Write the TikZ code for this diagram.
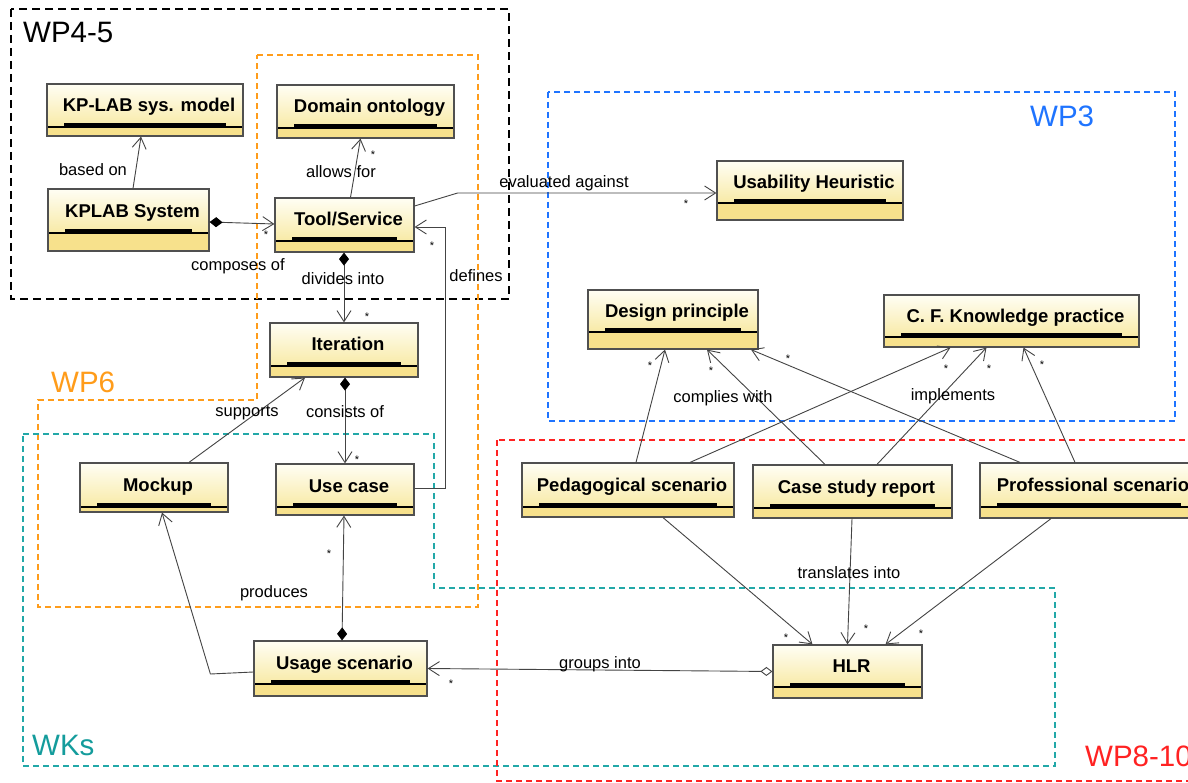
\documentclass[tikz,border=0pt]{standalone}
\usepackage{fontspec}
\setmainfont{Liberation Sans}
\usetikzlibrary{arrows.meta,fit}
\definecolor{boxtop}{HTML}{FFFEF4}
\definecolor{boxmid}{HTML}{F8EAA6}
\definecolor{boxbot}{HTML}{F7E18C}
\definecolor{boxborder}{HTML}{505050}
\definecolor{connc}{HTML}{444444}
\definecolor{wporange}{HTML}{FF9C1A}
\definecolor{wkteal}{HTML}{22A8A8}
\definecolor{wkteallbl}{HTML}{149C9C}
\definecolor{wpblue}{HTML}{1F74FF}
\definecolor{wpred}{HTML}{FF2222}
\tikzset{
  conn/.style={draw=connc, line width=0.9pt},
  nav/.style={conn, -{Straight Barb[length=11pt,width=14pt]}},
  comp/.style={conn, {Diamond[length=13pt,width=10pt,black]}-{Straight Barb[length=11pt,width=14pt]}},
  aggr/.style={conn, {Diamond[open,length=12pt,width=9pt]}-{Straight Barb[length=11pt,width=14pt]}},
  lbl/.style={font=\fontsize{16.5}{18}\selectfont, anchor=base, inner sep=0pt},
  mult/.style={font=\fontsize{11}{11}\selectfont, inner sep=0pt},
  title/.style={font=\fontsize{18.5}{20}\selectfont\bfseries, anchor=base, inner sep=0pt},
  grplbl/.style={font=\fontsize{29.5}{32}\selectfont, anchor=base west, inner sep=0pt},
  grpline/.style={line width=1.5pt, dash pattern=on 6pt off 4pt},
}
\newcommand{\umlbox}[7]{%
  \shade[top color=boxtop, bottom color=boxmid] (#2,#3) rectangle (#4,#6);
  \fill[boxbot] (#2,#6) rectangle (#4,#5);
  \draw[line width=3.2pt] ({#2+17},{#6-2.6}) -- ({#4-17},{#6-2.6});
  \draw[line width=1.4pt] (#2,#6) -- (#4,#6);
  \node[fit={(#2,#3) (#4,#5)}, inner sep=0pt, draw=boxborder, line width=1.2pt] (#1) {};
  \node[title] (#1-t) at ({(#2+#4)/2+4},{(#3+#6)/2+6.5}) {#7};
}
\begin{document}
\begin{tikzpicture}[x=1pt,y=-1pt]
\useasboundingbox (0,0) rectangle (1188,783);
\clip (0,0) rectangle (1188,783);
\fill[white] (0,0) rectangle (1188,783);

% groups
\draw[line width=2.6pt, dash pattern=on 8pt off 5pt] (11,9) rectangle (509,299);
\draw[grpline, wporange] (257,55) -- (478,55) -- (478,607) -- (38,607) -- (38,400) -- (257,400) -- cycle;
\draw[grpline, wkteal] (23,434) -- (434,434) -- (434,588) -- (1055,588) -- (1055,766) -- (23,766) -- cycle;
\draw[grpline, wpblue] (548,92) rectangle (1175,421);
\draw[grpline, wpred] (497,440) rectangle (1200,781);

\node[grplbl] (g45) at (23,43) {WP4-5};
\node[grplbl, text=wporange] (g6) at (51,392) {WP6};
\node[grplbl, text=wkteallbl] (gwk) at (32,755) {WKs};
\node[grplbl, text=wpblue] (g3) at (1030,127) {WP3};
\node[grplbl, text=wpred] (g810) at (1085,766) {WP8-10};

% boxes
\umlbox{kpm}{47}{84}{243}{136}{127}{KP-LAB sys. model}
\umlbox{dom}{277}{85}{454}{138}{128}{Domain ontology}
\umlbox{kps}{48}{189}{209}{251}{233}{KPLAB System}
\umlbox{ts}{275}{198}{414}{252}{241}{Tool/Service}
\umlbox{it}{270}{323}{418}{377}{366}{Iteration}
\umlbox{mk}{80}{463}{228}{512}{507}{Mockup}
\umlbox{uc}{276}{464}{414}{515}{507}{Use case}
\umlbox{us}{254}{641}{427}{696}{684}{Usage scenario}
\umlbox{uh}{717}{161}{903}{220}{203}{Usability Heuristic}
\umlbox{dp}{588}{290}{758}{349}{332}{Design principle}
\umlbox{cf}{884}{295}{1139}{347}{337}{C. F. Knowledge practice}
\umlbox{ps}{522}{463}{734}{517}{507}{Pedagogical scenario}
\umlbox{cs}{753}{465}{952}{518}{508}{Case study report}
\umlbox{prs}{980}{463}{1198}{518}{507}{Professional scenario}
\umlbox{hlr}{773}{645}{922}{698}{687}{HLR}

% connectors
\draw[nav] ([xshift=4.5pt]kps.north) -- ([xshift=-4pt]kpm.south);
\draw[comp] ([yshift=-2pt]kps.east) -- ([yshift=1pt]ts.west);
\draw[nav] ([xshift=6pt]ts.north) -- ([xshift=-5pt]dom.south);
\draw[nav] ([yshift=19pt]ts.east) -- ++(43,-13) -- ([yshift=-2.5pt]uh.west);
\draw[comp] ([xshift=-0.5pt]ts.south) -- (it.north);
\draw[nav] ([yshift=1.5pt]uc.east) -- ++(31,0) |- ([yshift=-2pt]ts.east);
\draw[nav] ([xshift=35pt]mk.north) -- ([xshift=-39pt]it.south);
\draw[comp] ([xshift=1pt]it.south) -- (uc.north);
\draw[comp] ([xshift=1.5pt]us.north) -- ([xshift=-1pt]uc.south);
\draw[nav] ([yshift=-3.5pt]us.west) -- ++(-43,2) -- ([xshift=8pt]mk.south);
\draw[aggr] (hlr.west) -- (us.east);
\draw[nav] ([xshift=8pt]ps.north) -- ([xshift=-8pt]dp.south);
\draw[nav] ([xshift=-27.5pt]cs.north) -- ([xshift=34pt]dp.south);
\draw[nav] ([xshift=-69pt]prs.north) -- ([xshift=78pt]dp.south);
\draw[nav] ([xshift=62pt]ps.north) -- ([xshift=-61pt]cf.south);
\draw[nav] ([xshift=24.5pt]cs.north) -- ([xshift=-25pt]cf.south);
\draw[nav] ([xshift=-14pt]prs.north) -- ([xshift=12pt]cf.south);
\draw[nav] ([xshift=35pt]ps.south) -- ([xshift=-35pt]hlr.north);
\draw[nav] ([xshift=-0.5pt]cs.south) -- ([xshift=0pt]hlr.north);
\draw[nav] ([xshift=-38pt]prs.south) -- ([xshift=38pt]hlr.north);

% labels
\node[lbl] (l1) at (93,176) {based on};
\node[lbl] (l2) at (238,271) {composes of};
\node[lbl] (l3) at (341,178) {allows for};
\node[lbl] (l4) at (564,188) {evaluated against};
\node[lbl] (l5) at (343,285) {divides into};
\node[lbl] (l6) at (476,282) {defines};
\node[lbl] (l7) at (247,416) {supports};
\node[lbl] (l8) at (345,417) {consists of};
\node[lbl] (l9) at (274,597) {produces};
\node[lbl] (l10) at (600,668) {groups into};
\node[lbl] (l11) at (723,402) {complies with};
\node[lbl] (l12) at (953,400) {implements};
\node[lbl] (l13) at (849,578) {translates into};

% multiplicities
\node[mult] (m1) at (266,235) {*};
\node[mult] (m2) at (373,155) {*};
\node[mult] (m3) at (686,204) {*};
\node[mult] (m4) at (367,317) {*};
\node[mult] (m5) at (432,246) {*};
\node[mult] (m6) at (357,460) {*};
\node[mult] (m7) at (329,554) {*};
\node[mult] (m8) at (451,684) {*};
\node[mult] (m9) at (650,366) {*};
\node[mult] (m10) at (711,371) {*};
\node[mult] (m11) at (788,359) {*};
\node[mult] (m12) at (946,369) {*};
\node[mult] (m13) at (989,369) {*};
\node[mult] (m14) at (1042,365) {*};
\node[mult] (m15) at (786,638) {*};
\node[mult] (m16) at (866,629) {*};
\node[mult] (m17) at (921,634) {*};
\end{tikzpicture}
\end{document}
